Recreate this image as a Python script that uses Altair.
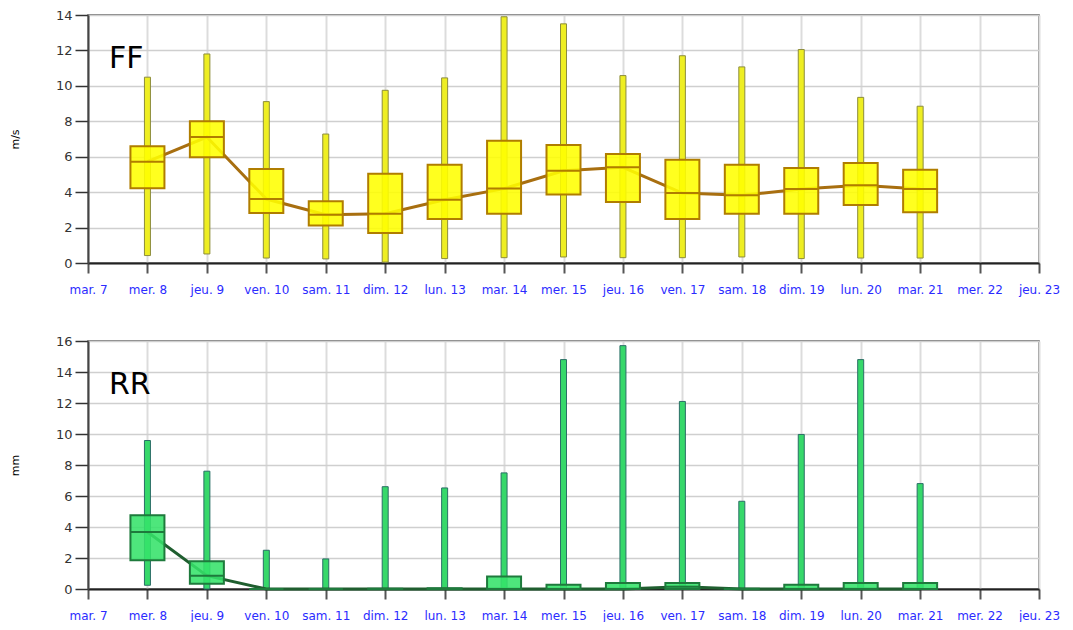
import altair as alt
import pandas as pd

# x tick labels (days 7..23)
day_labels = ["mar. 7", "mer. 8", "jeu. 9", "ven. 10", "sam. 11", "dim. 12", "lun. 13",
              "mar. 14", "mer. 15", "jeu. 16", "ven. 17", "sam. 18", "dim. 19", "lun. 20",
              "mar. 21", "mer. 22", "jeu. 23"]
day_values = list(range(7, 24))
days = list(range(8, 22))

# FF (m/s)
ff_lo = [0.42, 0.51, 0.28, 0.23, 0.05, 0.25, 0.30, 0.34, 0.30, 0.30, 0.34, 0.25, 0.28, 0.28]
ff_q1 = [4.22, 5.97, 2.82, 2.11, 1.69, 2.48, 2.78, 3.86, 3.44, 2.48, 2.78, 2.78, 3.27, 2.86]
ff_med = [5.72, 7.11, 3.61, 2.73, 2.78, 3.57, 4.20, 5.21, 5.40, 3.95, 3.82, 4.18, 4.39, 4.18]
ff_q3 = [6.59, 8.00, 5.31, 3.48, 5.04, 5.55, 6.90, 6.66, 6.15, 5.83, 5.55, 5.36, 5.65, 5.27]
ff_hi = [10.49, 11.80, 9.11, 7.28, 9.75, 10.45, 13.90, 13.50, 10.58, 11.70, 11.07, 12.05, 9.35, 8.85]

# RR (mm)
rr_lo = [0.24, 0.0, 0.0, 0.0, 0.0, 0.0, 0.0, 0.0, 0.0, 0.0, 0.0, 0.0, 0.0, 0.0]
rr_q1 = [1.85, 0.34, 0.0, 0.0, 0.0, 0.0, 0.0, 0.0, 0.0, 0.0, 0.0, 0.0, 0.0, 0.0]
rr_med = [3.68, 0.86, 0.0, 0.0, 0.0, 0.0, 0.0, 0.0, 0.0, 0.15, 0.0, 0.0, 0.0, 0.0]
rr_q3 = [4.76, 1.79, 0.0, 0.0, 0.02, 0.05, 0.80, 0.28, 0.39, 0.39, 0.02, 0.28, 0.39, 0.39]
rr_hi = [9.58, 7.60, 2.50, 1.94, 6.60, 6.52, 7.49, 14.80, 15.70, 12.10, 5.66, 9.97, 14.80, 6.80]

label_array = "[" + ",".join("'" + s + "'" for s in day_labels) + "]"

W, H = 951, 248


def panel(lo, q1, med, q3, hi, ymax, ytitle, name, box_fill, box_stroke,
          wh_fill, wh_stroke, line_color):
    df = pd.DataFrame({"day": days, "lo": lo, "q1": q1, "med": med, "q3": q3, "hi": hi})
    base = alt.Chart(df)
    x = alt.X("day:Q",
              scale=alt.Scale(domain=[7, 23], nice=False, zero=False, padding=0),
              axis=alt.Axis(values=day_values, labelExpr=label_array + "[datum.value - 7]",
                            title=None, tickSize=10, tickColor="#555", tickWidth=2,
                            domainColor="#222", domainWidth=2, labelColor="#2b2bff",
                            labelFontSize=12, labelPadding=11, gridColor="#dcdcdc",
                            gridWidth=2, labelFont="DejaVu Sans", labelOverlap=False,
                            labelFlush=False))
    yscale = alt.Scale(domain=[0, ymax], nice=False, padding=0)
    yaxis = alt.Axis(values=list(range(0, ymax + 1, 2)), title=ytitle, tickSize=13,
                     tickColor="#333", tickWidth=1.5, domainColor="#444", domainWidth=2,
                     labelPadding=3, labelFontSize=13, labelColor="#333",
                     gridColor="#cfcfcf", gridWidth=1.5, titleFontSize=11,
                     titleFontWeight="normal", titlePadding=35, titleColor="#000",
                     labelFont="DejaVu Sans", titleFont="DejaVu Sans", labelOverlap=False,
                     labelFlush=False)
    y = lambda f: alt.Y(f, scale=yscale, axis=yaxis)
    whisk = base.mark_bar(size=6, fill=wh_fill, stroke=wh_stroke, strokeWidth=1).encode(
        x=x, y=y("lo:Q"), y2="hi:Q")
    line = base.mark_line(color=line_color, strokeWidth=3).encode(x=x, y=y("med:Q"))
    box = base.mark_bar(size=34, fill=box_fill, fillOpacity=0.88, stroke=box_stroke,
                        strokeWidth=2).encode(x=x, y=y("q1:Q"), y2="q3:Q")
    medt = base.mark_tick(orient="horizontal", size=34, thickness=2, color=box_stroke,
                          opacity=1).encode(x=x, y=y("med:Q"))
    title = alt.Chart(pd.DataFrame({"t": [name]})).mark_text(
        align="left", baseline="alphabetic", fontSize=30, font="DejaVu Sans", color="#000"
    ).encode(text="t:N", x=alt.value(21), y=alt.value(53))
    return alt.layer(whisk, line, box, medt, title).properties(width=W, height=H)


top = panel(ff_lo, ff_q1, ff_med, ff_q3, ff_hi, 14, "m/s", "FF",
            "#FFFF00", "#B07D00", "#EEEE22", "#8C8C3C", "#A86F10")
bottom = panel(rr_lo, rr_q1, rr_med, rr_q3, rr_hi, 16, "mm", "RR",
               "#36E36A", "#1E7A3C", "#36D86A", "#2A6E66", "#1F5E2F")

chart = alt.vconcat(top, bottom, spacing=38).resolve_scale(y="independent").properties(
    padding={"left": 0, "top": 0, "right": 0, "bottom": 0}
).configure_view(stroke="#555", strokeWidth=1.5)

chart.save("out.html", embed_options={"renderer": "svg", "actions": False})
